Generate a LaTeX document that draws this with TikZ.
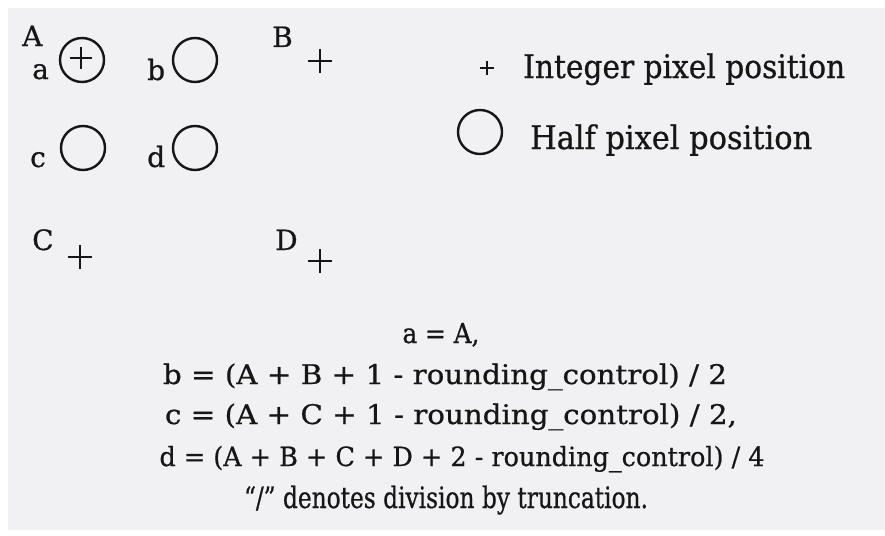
\documentclass[tikz,border=0pt]{standalone}
\usepackage{fontspec}
\setmainfont{DejaVu Serif}
\newfontfamily\inkfont{DejaVu Serif}[FakeBold=0.7]
\usepackage{graphicx}
\usetikzlibrary{calc}
\definecolor{paper}{HTML}{F1F1F3}
\definecolor{ink}{HTML}{161616}
\tikzset{
  lbl/.style={anchor=base west,inner sep=0pt,font=\inkfont\fontsize{28}{34}\selectfont,text=ink},
  legtxt/.style={anchor=base west,inner sep=0pt,font=\inkfont\fontsize{31}{36}\selectfont,text=ink},
  eqn/.style={anchor=base,inner sep=0pt,font=\inkfont\fontsize{25}{30}\selectfont,text=ink},
  halfpix/.style={circle,draw=ink,line width=2.4pt,minimum size=44pt,inner sep=0pt},
  pluspen/.style={draw=ink,line width=2.4pt},
}
\newcommand{\plusmark}[2]{\draw[pluspen] ($(#1)+(-#2,0)$) -- ($(#1)+(#2,0)$) ($(#1)+(0,-#2)$) -- ($(#1)+(0,#2)$);}
\begin{document}
\begin{tikzpicture}[x=1pt,y=-1pt]
\useasboundingbox (0,0) rectangle (885,535);
\fill[white] (0,0) rectangle (885,535);
\fill[paper] (8,8) rectangle (885,530);
% grid labels
\node[lbl] (lA) at (22,46) {A};
\node[lbl] (la) at (32,79) {a};
\node[lbl] (lb) at (147,80) {b};
\node[lbl] (lB) at (272,47) {B};
\node[lbl] (lc) at (30,167) {c};
\node[lbl] (ld) at (147,167) {d};
\node[lbl] (lC) at (32,250) {C};
\node[lbl] (lD) at (275,250) {D};
% half pixel circles
\node[halfpix] (ca) at (82,60) {};
\node[halfpix] (cb) at (195,60) {};
\node[halfpix] (cc) at (83,148) {};
\node[halfpix] (cd) at (195,148) {};
% integer pixel positions
\coordinate (pA) at (81,58);
\coordinate (pB) at (320,61);
\coordinate (pC) at (80,257);
\coordinate (pD) at (320,261);
\plusmark{pA}{11}
\plusmark{pB}{12}
\plusmark{pC}{12}
\plusmark{pD}{12}
% legend
\coordinate (legplus) at (487,68);
\plusmark{legplus}{7}
\node[legtxt] (legint) at (523,78) {\resizebox{322pt}{1.05\height}{Integer pixel position}};
\node[halfpix] (legcirc) at (480,132) {};
\node[legtxt] (leghalf) at (530,149) {\resizebox{282pt}{1.05\height}{Half pixel position}};
% equations
\node[eqn] (e1) at (441,343) {\resizebox{77pt}{1.1\height}{a = A,}};
\node[eqn] (e2) at (445,384) {\resizebox{564pt}{1.08\height}{b = (A + B + 1 - rounding\_control) / 2}};
\node[eqn] (e3) at (451,424) {\resizebox{572pt}{1.08\height}{c = (A + C + 1 - rounding\_control) / 2,}};
\node[eqn] (e4) at (462,466) {\resizebox{605pt}{1.06\height}{d = (A + B + C + D + 2 - rounding\_control) / 4}};
\node[eqn] (e5) at (446,508) {\resizebox{404pt}{1.18\height}{“/” denotes division by truncation.}};
\end{tikzpicture}
\end{document}
